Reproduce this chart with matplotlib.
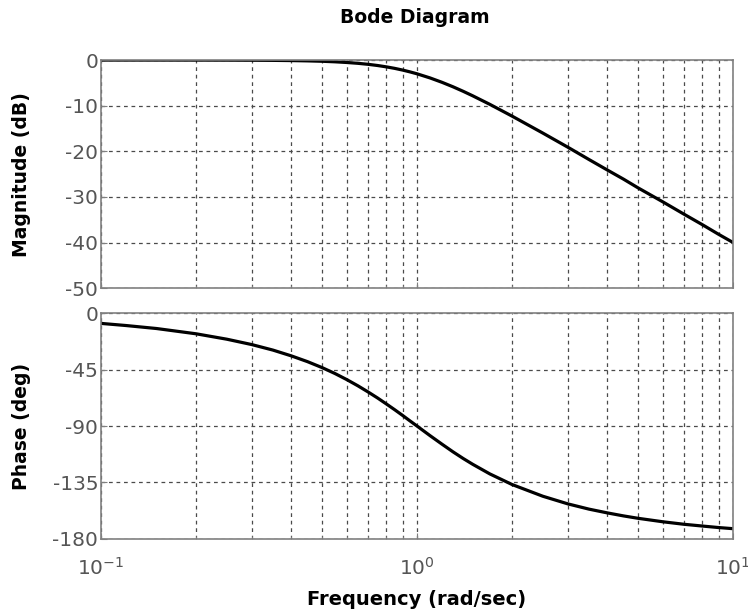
import matplotlib
matplotlib.use("Agg")
import matplotlib.pyplot as plt
from matplotlib.ticker import LogLocator, NullFormatter

# frequency points (rad/sec) and values
freq = [0.1, 0.12, 0.15, 0.2, 0.25, 0.3, 0.35, 0.4, 0.45, 0.5, 0.55, 0.6, 0.65, 0.7,
        0.75, 0.8, 0.85, 0.9, 0.95, 1.0, 1.1, 1.2, 1.3, 1.4, 1.5, 1.7, 2.0, 2.5,
        3.0, 3.5, 4.0, 4.5, 5.0, 6.0, 7.0, 8.0, 9.0, 10.0]
mag_db = [0.0, 0.0, -0.002, -0.007, -0.017, -0.035, -0.065, -0.11, -0.175, -0.26, -0.38,
          -0.53, -0.71, -0.93, -1.19, -1.49, -1.82, -2.19, -2.59, -3.01, -3.92, -4.88,
          -5.86, -6.85, -7.83, -9.71, -12.3, -16.0, -19.1, -21.8, -24.1, -26.1, -28.0,
          -31.1, -33.8, -36.1, -38.2, -40.0]
phase_deg = [-8.1, -9.8, -12.2, -16.4, -20.7, -25.0, -29.4, -34.0, -38.6, -43.3, -48.1,
             -53.0, -57.9, -62.8, -67.6, -72.4, -77.0, -81.5, -85.9, -90.0, -97.7, -104.5,
             -110.6, -115.9, -120.5, -128.2, -136.7, -146.0, -152.1, -156.3, -159.3, -161.7,
             -163.6, -166.4, -168.4, -169.8, -171.0, -171.9]

mag_ticks = [0, -10, -20, -30, -40, -50]
phase_ticks = [0, -45, -90, -135, -180]

plt.rcParams['font.family'] = ['DejaVu Sans']
plt.rcParams['axes.unicode_minus'] = False
plt.rcParams['mathtext.default'] = 'regular'

fig = plt.figure(figsize=(7.48, 6.13), dpi=100)
ax1 = fig.add_axes([0.135, 0.530, 0.845, 0.372])
ax2 = fig.add_axes([0.135, 0.121, 0.845, 0.368])

for ax in (ax1, ax2):
    ax.set_xscale('log')
    ax.set_xlim(0.1, 10)
    ax.xaxis.set_major_locator(LogLocator(base=10))
    ax.xaxis.set_minor_locator(LogLocator(base=10, subs=range(2, 10)))
    ax.xaxis.set_minor_formatter(NullFormatter())
    ax.grid(True, which='both', axis='x', color='#4a4a4a', linestyle=(0, (3, 3)), linewidth=0.9)
    ax.grid(True, which='major', axis='y', color='#4a4a4a', linestyle=(0, (3, 3)), linewidth=0.9)
    for s in ax.spines.values():
        s.set_color('#808080')
        s.set_linewidth(1.2)
    ax.tick_params(which='both', direction='in', colors='#808080', labelcolor='#555555',
                   labelsize=14.5, length=4, pad=2)
    ax.tick_params(which='minor', length=2)

ax1.plot(freq, mag_db, color='black', linewidth=2.3)
ax1.set_ylim(-50, 0)
ax1.set_yticks(mag_ticks)
ax1.tick_params(axis='x', which='both', labelbottom=False)
ax1.set_ylabel('Magnitude (dB)', fontsize=13.5, fontweight='bold')
ax1.yaxis.set_label_coords(-0.11, 0.5)

ax2.plot(freq, phase_deg, color='black', linewidth=2.3)
ax2.set_ylim(-180, 0)
ax2.set_yticks(phase_ticks)
ax2.tick_params(axis='x', which='major', pad=13)
ax2.set_ylabel('Phase (deg)', fontsize=13.5, fontweight='bold')
ax2.yaxis.set_label_coords(-0.11, 0.5)
ax2.set_xlabel('Frequency (rad/sec)', fontsize=14, fontweight='bold', labelpad=8)

fig.text(0.555, 0.971, 'Bode Diagram', ha='center', va='center', fontsize=13.5,
         fontweight='bold')

plt.savefig('out.png', dpi=100)
